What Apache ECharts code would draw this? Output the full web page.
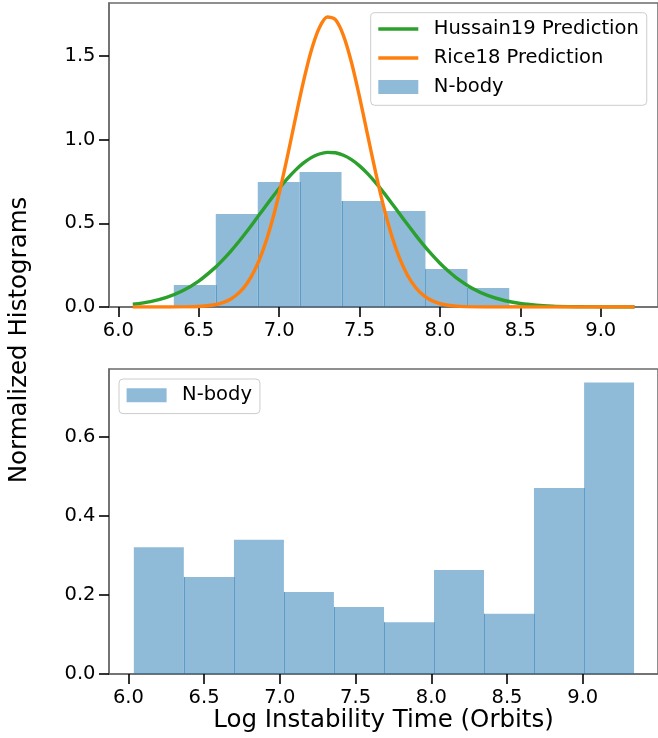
<!DOCTYPE html>
<html>
<head>
<meta charset="utf-8">
<script src="https://cdn.jsdelivr.net/npm/echarts@6/dist/echarts.min.js"></script>
<style>
html,body{margin:0;padding:0;background:#fff;}
#chart{width:658px;height:738px;}
</style>
</head>
<body>
<div id="chart"></div>
<script>
// ---- Data ----
const curveX = [6.09, 6.2, 6.3, 6.4, 6.5, 6.6, 6.65, 6.7, 6.75, 6.8, 6.85, 6.9, 6.95, 7.0,
  7.05, 7.1, 7.15, 7.2, 7.25, 7.3, 7.35, 7.4, 7.45, 7.5, 7.55, 7.6, 7.65, 7.7, 7.75, 7.8,
  7.85, 7.9, 7.95, 8.0, 8.05, 8.1, 8.2, 8.3, 8.4, 8.5, 8.6, 8.7, 8.8, 8.9, 9.0, 9.1, 9.21];
const hussain19 = [0.0163, 0.0326, 0.0578, 0.0971, 0.1548, 0.2337, 0.2813, 0.3342, 0.3918, 0.4530, 0.5169, 0.5819, 0.6462, 0.7083,
  0.7657, 0.8168, 0.8596, 0.8927, 0.9145, 0.9244, 0.9220, 0.9072, 0.8807, 0.8436, 0.7973, 0.7433, 0.6839, 0.6207, 0.5558, 0.4911,
  0.4281, 0.3682, 0.3125, 0.2616, 0.2161, 0.1761, 0.1124, 0.0679, 0.0389, 0.0211, 0.0109, 0.0053, 0.0024, 0.0011, 0.0004, 0.0002, 0.0001];
const rice18 = [0, 0, 0.0001, 0.0006, 0.0032, 0.0137, 0.0263, 0.0482, 0.0843, 0.1407, 0.2239, 0.3398, 0.4916, 0.6785,
  0.8928, 1.1212, 1.3420, 1.5327, 1.6689, 1.7333, 1.7170, 1.6221, 1.4615, 1.2558, 1.0293, 0.8046, 0.5998, 0.4265, 0.2891, 0.1870,
  0.1153, 0.0678, 0.0381, 0.0204, 0.0104, 0.0051, 0.0010, 0.0002, 0, 0, 0, 0, 0, 0, 0, 0, 0];

const topBinEdges = [6.345, 6.606, 6.867, 7.127, 7.388, 7.649, 7.910, 8.171, 8.431, 8.692, 8.953];
const topHeights = [0.131, 0.556, 0.747, 0.807, 0.634, 0.574, 0.227, 0.114, 0.011, 0.011];

const bottomBinEdges = [6.036, 6.366, 6.697, 7.027, 7.357, 7.688, 8.018, 8.348, 8.678, 9.009, 9.339];
const bottomHeights = [0.320, 0.245, 0.339, 0.207, 0.169, 0.131, 0.263, 0.152, 0.470, 0.736];

const xTicks = [6.0, 6.5, 7.0, 7.5, 8.0, 8.5, 9.0];
const topYTicks = [0.0, 0.5, 1.0, 1.5];
const bottomYTicks = [0.0, 0.2, 0.4, 0.6];

// ---- Styling ----
const FONT = '"DejaVu Sans", "Liberation Sans", sans-serif';
const SPINE = '#6b6b6b';
const BAR = 'rgba(31,119,180,0.5)';
const SEAM = 'rgba(31,119,180,0.45)';
const TICK_FS = 19.5;
const LINE_ICON = 'path://M0,0H40V3.4H0Z';

function pairs(xs, ys) { return xs.map((x, i) => [x, ys[i]]); }

function barSeries(edges, heights, xi, yi) {
  const data = heights.map((h, i) => [edges[i], edges[i + 1], h, i > 0 ? Math.min(h, heights[i - 1]) : 0]);
  return {
    type: 'custom', name: 'N-body', xAxisIndex: xi, yAxisIndex: yi,
    itemStyle: { color: BAR }, z: 1,
    encode: { x: [0, 1], y: [2] },
    data: data,
    renderItem: function (params, api) {
      const x0 = api.value(0), x1 = api.value(1), h = api.value(2), seam = api.value(3);
      const pTop = api.coord([x0, h]);
      const pBot = api.coord([x1, 0]);
      const children = [{
        type: 'rect',
        shape: { x: pTop[0], y: pTop[1], width: pBot[0] - pTop[0], height: pBot[1] - pTop[1] },
        style: { fill: BAR }
      }];
      if (params.dataIndex > 0 && seam > 0) {
        const s = api.coord([x0, seam]);
        const sx = Math.round(pTop[0]) + 0.5;
        children.push({
          type: 'line',
          shape: { x1: sx, y1: pBot[1], x2: sx, y2: s[1] },
          style: { stroke: SEAM, lineWidth: 1 }
        });
      }
      return { type: 'group', children: children };
    }
  };
}

function xAxisCfg(gi, min, max, extra) {
  return Object.assign({
    type: 'value', gridIndex: gi, min: min, max: max,
    splitLine: { show: false },
    axisLine: { show: true, onZero: false, lineStyle: { color: SPINE, width: 1.5 } },
    axisTick: { show: true, length: 10, lineStyle: { color: '#000', width: 1.6 }, customValues: xTicks },
    axisLabel: { show: true, margin: 13.5, fontSize: TICK_FS, fontFamily: FONT, color: '#000',
      customValues: xTicks, formatter: v => Number(v).toFixed(1) }
  }, extra || {});
}
function yAxisCfg(gi, min, max, ticks) {
  return {
    type: 'value', gridIndex: gi, min: min, max: max,
    splitLine: { show: false },
    axisLine: { show: true, onZero: false, lineStyle: { color: SPINE, width: 1.5 } },
    axisTick: { show: true, length: 10, lineStyle: { color: '#000', width: 1.6 }, customValues: ticks },
    axisLabel: { show: true, margin: 13.5, fontSize: TICK_FS, fontFamily: FONT, color: '#000',
      customValues: ticks, formatter: v => Number(v).toFixed(1) }
  };
}

const legendCommon = {
  orient: 'vertical',
  itemWidth: 40, itemHeight: 14, itemGap: 9,
  backgroundColor: 'rgba(255,255,255,0.8)',
  borderColor: '#cccccc', borderWidth: 1, borderRadius: 4,
  padding: [6.3, 8, 8.3, 7.6],
  symbolKeepAspect: true,
  textStyle: { fontSize: 19.5, fontFamily: FONT, color: '#000', lineHeight: 20, padding: [0, 0, 0, 10.5] },
  selectedMode: false
};

const chart = echarts.init(document.getElementById('chart'), null, { renderer: 'canvas' });
chart.setOption({
  animation: false,
  backgroundColor: '#fff',
  grid: [
    { left: 109, top: 3, width: 551, height: 304, show: true, borderColor: SPINE, borderWidth: 1.5, backgroundColor: 'transparent' },
    { left: 109, top: 369, width: 551, height: 305, show: true, borderColor: SPINE, borderWidth: 1.5, backgroundColor: 'transparent' }
  ],
  xAxis: [
    xAxisCfg(0, 5.942, 9.356),
    xAxisCfg(1, 5.872, 9.497, {
      name: 'Log Instability Time (Orbits)', nameLocation: 'middle', nameGap: 34,
      nameTextStyle: { fontSize: 24.5, fontFamily: FONT, color: '#000' }
    })
  ],
  yAxis: [
    yAxisCfg(0, 0, 1.817, topYTicks),
    yAxisCfg(1, 0, 0.7704, bottomYTicks)
  ],
  legend: [
    Object.assign({}, legendCommon, {
      left: 370.7, top: 12.7,
      data: [
        { name: 'Hussain19 Prediction', icon: LINE_ICON, itemStyle: { color: '#2ca02c' } },
        { name: 'Rice18 Prediction', icon: LINE_ICON, itemStyle: { color: '#ff7f0e' } },
        { name: 'N-body', icon: 'rect' }
      ]
    }),
    Object.assign({}, legendCommon, {
      left: 119, top: 379,
      data: [{ name: 'N-body', icon: 'rect' }]
    })
  ],
  graphic: [{
    type: 'text', x: 20, y: 340, rotation: Math.PI / 2,
    style: { text: 'Normalized Histograms', fontSize: 24.5, fontFamily: FONT, fill: '#000',
      align: 'center', verticalAlign: 'middle' }
  }],
  series: [
    barSeries(topBinEdges, topHeights, 0, 0),
    {
      type: 'line', name: 'Hussain19 Prediction', xAxisIndex: 0, yAxisIndex: 0,
      data: pairs(curveX, hussain19), smooth: 0.3, symbol: 'none', showSymbol: false,
      lineStyle: { color: '#2ca02c', width: 3.4 }, itemStyle: { color: '#2ca02c' }, z: 3
    },
    {
      type: 'line', name: 'Rice18 Prediction', xAxisIndex: 0, yAxisIndex: 0,
      data: pairs(curveX, rice18), smooth: 0.3, symbol: 'none', showSymbol: false,
      lineStyle: { color: '#ff7f0e', width: 3.4 }, itemStyle: { color: '#ff7f0e' }, z: 4
    },
    barSeries(bottomBinEdges, bottomHeights, 1, 1)
  ]
});
</script>
</body>
</html>
